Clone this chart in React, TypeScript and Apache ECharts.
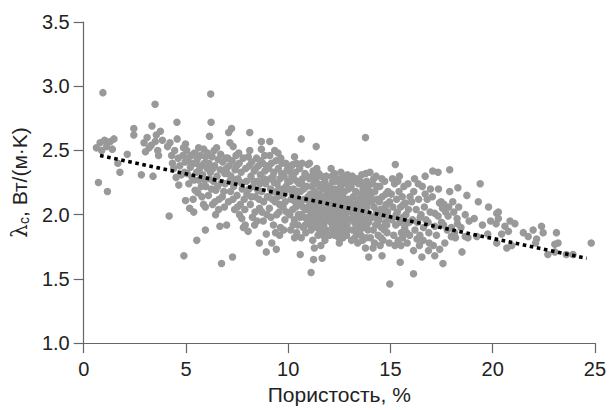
import React, { useEffect, useRef } from "react";
import * as echarts from "echarts";

// Axis ticks
const xTicks = [0, 5, 10, 15, 20, 25];
const yTicks = [1.0, 1.5, 2.0, 2.5, 3.0, 3.5];

// Scatter points [porosity %, conductivity W/(m·K)]
const band0to4: number[][] = [
  [0.94,2.95],[0.62,2.52],[0.80,2.56],[1.02,2.58],[1.30,2.57],[1.12,2.53],[0.88,2.50],[1.48,2.59],[1.40,2.51],
  [0.72,2.25],[1.16,2.18],[1.67,2.40],[1.77,2.33],[2.13,2.47],[2.45,2.67],[2.45,2.62],[3.49,2.86],[3.34,2.69],
  [3.75,2.65],[3.10,2.60],[2.95,2.56],[3.20,2.52],[3.62,2.50],[3.50,2.57],[3.02,2.49],[3.66,2.46],[3.55,2.62],
  [2.82,2.31],[3.39,2.30],[3.30,2.54],[3.85,2.58],[4.18,1.99]
];
const band4to6: number[][] = [
  [4.56,2.72],[4.57,2.59],[4.98,2.55],[4.10,2.53],[4.30,2.46],[4.34,2.40],[4.45,2.50],[4.62,2.44],[4.70,2.38],
  [4.85,2.46],[4.96,2.41],[4.40,2.36],[4.78,2.31],[4.65,2.23],[4.98,2.11],[4.90,1.68],[4.22,2.56],[4.88,2.52],
  [4.52,2.29],[4.93,2.33],
  [6.21,2.94],[6.23,2.72],[6.15,2.61],[5.87,2.51],[5.04,2.50],[5.42,2.48],[5.55,2.43],[5.70,2.46],[5.96,2.45],
  [5.38,2.02],[5.95,1.88],[5.53,1.80],[5.95,2.06],[5.10,2.44],[5.22,2.37],[5.30,2.29],[5.14,2.24],[5.48,2.40],
  [5.52,2.33],[5.45,2.19],[5.62,2.27],[5.74,2.38],[5.78,2.14],[5.82,2.31],[5.90,2.40],[5.97,2.22],[5.26,2.46],
  [5.62,2.52],[5.06,2.32],[5.35,2.12],[5.86,2.08],[5.58,2.17],[5.68,2.36],[5.92,2.27],[5.18,2.05],[5.40,2.27],
  [5.75,2.22],[5.28,2.40]
];
const band6to8: number[][] = [
  [6.50,2.52],[6.74,1.62],[6.66,1.91],[6.99,1.92],[6.05,2.48],[6.12,2.40],[6.20,2.33],[6.28,2.45],[6.35,2.26],
  [6.40,2.38],[6.46,2.19],[6.52,2.30],[6.58,2.43],[6.62,2.12],[6.68,2.35],[6.75,2.25],[6.80,2.41],[6.85,2.18],
  [6.90,2.32],[6.95,2.44],[6.10,2.15],[6.30,2.08],[6.60,2.04],[6.45,2.00],[6.88,2.06],[6.15,2.28],[6.38,2.50],
  [6.70,2.47],[6.25,2.20],[6.92,2.24],[6.05,2.36],[6.55,2.22],[6.78,2.14],[6.33,2.36],[6.98,2.36],[6.42,2.10],
  [7.23,2.67],[7.09,2.64],[7.15,2.56],[7.31,2.53],[7.28,1.67],[7.81,1.90],[7.73,1.97],[7.90,1.92],[7.05,2.44],
  [7.12,2.38],[7.20,2.30],[7.26,2.42],[7.34,2.22],[7.40,2.35],[7.45,2.46],[7.50,2.15],[7.55,2.28],[7.60,2.40],
  [7.66,2.08],[7.70,2.33],[7.75,2.20],[7.80,2.44],[7.85,2.12],[7.92,2.36],[7.96,2.26],[7.08,2.10],[7.18,2.18],
  [7.38,2.04],[7.48,2.38],[7.58,2.48],[7.62,2.00],[7.88,2.04],[7.42,2.27],[7.14,2.26],[7.68,2.25],[7.30,2.12],
  [7.52,2.06],[7.98,2.16],[7.02,2.32]
];
const band8to10: number[][] = [
  [8.12,2.64],[8.69,2.57],[8.69,2.51],[8.85,2.46],[8.59,1.78],[8.93,1.71],[8.93,1.85],[8.04,1.87],[8.05,2.45],
  [8.10,2.38],[8.18,2.30],[8.22,2.41],[8.28,2.22],[8.34,2.34],[8.40,2.14],[8.45,2.44],[8.50,2.26],[8.55,2.38],
  [8.60,2.05],[8.64,2.31],[8.70,2.18],[8.75,2.40],[8.80,2.10],[8.86,2.34],[8.90,2.24],[8.96,2.00],[8.15,2.08],
  [8.25,1.98],[8.38,2.02],[8.48,1.95],[8.58,2.12],[8.78,1.95],[8.32,2.26],[8.42,2.36],[8.52,2.19],[8.66,2.42],
  [8.82,2.28],[8.08,2.20],[8.20,2.14],[8.62,2.24],[8.94,2.38],[8.36,1.92],[8.72,2.02],[8.12,2.50],[8.98,2.14],
  [9.10,2.57],[9.34,2.50],[9.42,1.73],[9.58,1.84],[9.10,2.46],[9.50,2.48],[9.05,2.36],[9.12,2.28],[9.18,2.40],
  [9.24,2.18],[9.30,2.33],[9.36,2.10],[9.40,2.42],[9.46,2.24],[9.52,2.36],[9.56,2.02],[9.60,2.28],[9.66,2.15],
  [9.70,2.40],[9.75,2.06],[9.80,2.30],[9.84,1.96],[9.90,2.22],[9.95,2.35],[9.08,2.05],[9.16,1.98],[9.22,2.12],
  [9.28,1.92],[9.44,2.00],[9.48,2.14],[9.62,1.90],[9.72,2.20],[9.78,1.88],[9.86,2.10],[9.92,2.02],[9.98,2.26],
  [9.14,2.20],[9.32,2.25],[9.54,2.20],[9.68,2.32],[9.88,2.40],[9.38,1.86],[9.20,1.78],[9.64,2.44],[9.02,2.14],
  [9.82,2.16],[9.26,2.30],[9.58,2.08]
];
const band10to12: number[][] = [
  [10.64,2.59],[10.31,2.45],[10.23,2.39],[10.96,2.39],[10.59,1.69],[10.31,1.82],[10.64,1.82],[10.05,2.34],
  [10.10,2.26],[10.14,2.12],[10.18,2.30],[10.22,2.04],[10.26,2.20],[10.30,1.96],[10.35,2.33],[10.40,2.14],
  [10.44,2.26],[10.48,1.92],[10.52,2.08],[10.56,2.36],[10.60,2.18],[10.65,2.00],[10.70,2.28],[10.74,1.90],
  [10.78,2.12],[10.82,2.32],[10.86,2.04],[10.90,2.22],[10.94,1.96],[10.98,2.14],[10.08,2.00],[10.12,1.88],
  [10.20,2.16],[10.28,2.28],[10.38,2.06],[10.42,1.86],[10.46,2.18],[10.54,2.24],[10.58,1.98],[10.62,2.10],
  [10.68,2.40],[10.72,2.06],[10.76,2.20],[10.84,1.92],[10.88,2.12],[10.92,2.30],[10.02,2.20],[10.16,2.38],
  [10.34,2.10],[10.50,2.00],[10.66,2.24],[10.80,1.98],[10.96,2.06],[10.24,1.92],[10.40,2.40],[10.86,1.86],
  [11.04,2.40],[11.37,2.53],[11.24,1.65],[11.66,1.66],[11.12,1.55],[11.28,1.74],[11.60,1.76],[11.05,2.28],
  [11.08,2.16],[11.10,2.02],[11.14,1.94],[11.16,2.22],[11.20,2.10],[11.22,2.34],[11.26,1.98],[11.30,2.18],
  [11.34,2.04],[11.36,2.28],[11.40,1.90],[11.42,2.12],[11.46,2.24],[11.48,2.00],[11.52,2.16],[11.55,1.86],
  [11.58,2.08],[11.62,2.30],[11.64,1.96],[11.68,2.20],[11.70,2.04],[11.74,1.92],[11.76,2.14],[11.80,2.26],
  [11.82,2.00],[11.86,1.88],[11.88,2.10],[11.92,2.18],[11.94,1.96],[11.98,2.06],[11.06,2.08],[11.12,1.88],
  [11.18,2.30],[11.24,2.06],[11.32,1.94],[11.38,2.16],[11.44,2.06],[11.50,2.32],[11.56,1.98],[11.60,2.12],
  [11.66,1.90],[11.72,2.24],[11.78,2.06],[11.84,2.14],[11.90,1.84],[11.96,2.22],[11.02,1.98],[11.28,2.24],
  [11.46,1.84],[11.70,1.84],[11.86,2.30],[11.54,2.22],[11.16,2.14],[11.40,2.36],[11.20,1.80],[11.80,1.80],
  [11.64,2.02],[11.34,2.10],[11.10,1.92],[11.44,1.96],[11.74,2.00],[11.90,2.02],[11.30,2.00],[11.58,1.92]
];
const band12to14: number[][] = [
  [12.10,2.36],[12.58,2.33],[12.50,1.78],[12.90,2.31],[12.02,2.22],[12.05,2.08],[12.08,1.94],[12.12,2.14],
  [12.15,2.00],[12.18,2.26],[12.20,1.88],[12.24,2.10],[12.26,2.20],[12.30,1.96],[12.32,2.04],[12.36,2.16],
  [12.38,1.90],[12.42,2.28],[12.44,2.06],[12.48,1.98],[12.52,2.12],[12.54,1.86],[12.56,2.22],[12.60,2.02],
  [12.64,1.94],[12.66,2.14],[12.70,2.06],[12.72,1.88],[12.76,2.18],[12.78,1.98],[12.82,2.24],[12.84,2.08],
  [12.88,1.92],[12.92,2.12],[12.94,2.02],[12.98,1.96],[12.04,1.84],[12.14,2.30],[12.22,2.04],[12.28,1.84],
  [12.34,2.26],[12.40,2.00],[12.46,2.18],[12.50,2.08],[12.58,1.92],[12.62,2.26],[12.68,1.82],[12.74,2.10],
  [12.80,2.02],[12.86,1.84],[12.96,2.20],[12.10,1.98],[12.20,2.16],[12.32,1.92],[12.44,1.94],[12.56,2.04],
  [12.66,2.00],[12.78,2.12],[12.90,1.88],[12.16,1.90],[12.38,2.12],[12.60,2.16],[12.84,1.96],[12.26,2.32],
  [12.48,1.82],[12.72,2.30],[12.94,2.26],[12.06,2.02],[12.52,1.96],[12.76,1.94],[12.28,2.00],[12.64,2.08],
  [12.88,2.04],[12.40,1.86],[12.70,1.98],
  [13.78,2.60],[13.60,2.31],[13.80,2.32],[14.00,2.33],[13.94,1.67],[13.78,1.74],[13.02,2.10],[13.05,1.96],
  [13.08,2.22],[13.12,2.02],[13.15,1.88],[13.18,2.14],[13.22,2.26],[13.24,1.94],[13.28,2.06],[13.30,2.18],
  [13.34,1.86],[13.38,2.00],[13.40,2.12],[13.44,2.24],[13.48,1.92],[13.50,2.04],[13.54,2.16],[13.56,1.84],
  [13.60,1.98],[13.62,2.08],[13.66,2.20],[13.70,1.90],[13.72,2.02],[13.76,2.14],[13.80,1.96],[13.84,2.26],
  [13.86,2.06],[13.90,1.88],[13.92,2.10],[13.96,2.00],[13.98,2.18],[13.10,1.80],[13.20,2.08],[13.26,1.82],
  [13.36,2.28],[13.42,1.96],[13.52,2.26],[13.58,2.10],[13.64,1.80],[13.68,2.04],[13.74,2.24],[13.82,1.82],
  [13.88,2.16],[13.94,1.94],[13.14,2.30],[13.32,1.92],[13.46,2.08],[13.64,1.94],[13.78,2.06],[13.06,2.04],
  [13.40,1.78],[13.70,2.12],[13.90,2.22],[13.18,1.98],[13.56,2.00],[13.28,1.96],[13.50,1.88],[13.84,1.90]
];
const band14to17: number[][] = [
  [14.15,1.74],[14.59,1.68],[14.97,1.46],[14.30,2.30],[14.05,2.14],[14.08,1.98],[14.12,2.24],[14.16,1.88],
  [14.20,2.06],[14.24,2.18],[14.28,1.92],[14.32,2.02],[14.36,2.12],[14.40,1.84],[14.44,1.96],[14.48,2.22],
  [14.52,2.04],[14.56,1.90],[14.60,2.14],[14.64,1.80],[14.68,2.00],[14.72,2.26],[14.76,1.94],[14.80,2.08],
  [14.84,1.86],[14.88,2.18],[14.92,1.98],[14.96,2.10],[14.02,1.82],[14.10,2.10],[14.22,1.78],[14.34,2.22],
  [14.46,2.10],[14.54,1.82],[14.62,2.00],[14.70,1.88],[14.78,2.16],[14.86,2.02],[14.94,1.78],[14.18,2.28],
  [14.38,1.94],[14.58,2.28],[14.82,1.92],[14.26,1.98],[14.50,1.76],[14.74,2.06],
  [15.24,2.39],[15.86,2.24],[15.73,2.09],[15.48,1.63],[15.80,1.86],[15.04,2.16],[15.08,1.96],[15.12,2.06],
  [15.16,1.84],[15.20,2.24],[15.26,1.92],[15.30,2.12],[15.34,2.02],[15.38,1.80],[15.42,2.18],[15.46,1.94],
  [15.50,2.06],[15.54,1.86],[15.58,2.14],[15.62,1.98],[15.66,2.22],[15.70,1.90],[15.76,2.00],[15.82,1.78],
  [15.88,2.04],[15.92,1.94],[15.96,2.14],[15.10,2.28],[15.22,1.76],[15.36,2.26],[15.52,1.76],[15.64,2.08],
  [15.78,1.94],[15.94,1.84],[15.44,2.30],[15.28,2.00],[15.60,1.82],
  [16.13,1.54],[16.54,1.67],[16.86,1.72],[16.13,1.72],[16.30,1.81],[16.70,2.30],[16.70,2.16],[16.04,2.10],
  [16.08,1.96],[16.14,2.18],[16.20,1.88],[16.26,2.04],[16.32,1.94],[16.38,2.12],[16.44,1.84],[16.50,2.00],
  [16.56,2.22],[16.62,1.90],[16.66,2.06],[16.74,1.96],[16.80,2.12],[16.88,1.86],[16.94,2.02],[16.18,2.28],
  [16.42,1.76],[16.60,1.80],[16.84,1.94],[16.96,2.20],[16.36,2.24],[16.46,1.98],[16.90,1.78]
];
const band17to25: number[][] = [
  [17.07,2.34],[17.33,2.33],[17.90,2.35],[17.90,2.18],[17.10,1.76],[17.17,2.01],[17.33,1.99],[17.50,1.94],
  [17.17,1.91],[17.98,1.90],[17.98,1.83],[17.66,1.78],[17.41,1.73],[17.17,1.68],[17.57,1.62],[17.55,2.05],
  [17.70,2.02],[17.62,2.08],[17.40,2.09],[17.48,2.10],[17.82,1.99],[17.25,1.84],[17.78,1.88],[17.05,2.14],
  [17.60,1.92],[17.35,2.20],[17.85,2.06],
  [18.30,2.21],[18.74,2.15],[18.14,1.86],[18.50,1.71],[18.66,1.83],[18.79,1.82],[18.10,2.02],[18.34,2.06],
  [18.26,1.97],[18.66,2.00],[18.45,1.90],[18.28,1.93],[18.85,1.95],[18.05,2.10],[18.00,1.83],[18.18,1.82],
  [19.39,2.24],[19.30,2.10],[19.80,2.06],[20.28,2.02],[20.28,1.97],[20.20,2.01],[20.17,1.93],[20.60,1.91],
  [20.85,1.95],[21.09,1.93],[20.77,1.87],[20.44,1.85],[20.20,1.78],[20.69,1.74],[20.93,1.76],[19.76,1.85],
  [19.23,1.83],[19.50,1.92],[19.10,1.97],[19.90,1.95],
  [21.50,1.86],[21.74,1.83],[21.98,1.88],[22.39,1.91],[22.47,1.86],[22.15,1.81],[22.10,1.78],[23.12,1.86],
  [23.20,1.78],[23.04,1.77],[22.70,1.69],[23.04,1.71],[23.60,1.69],[23.93,1.69],[24.82,1.78]
];

// Linear trend line end points
const trendX = [0.8, 24.6];
const trendY = [2.46, 1.66];

const points = [
  ...band0to4, ...band4to6, ...band6to8, ...band8to10,
  ...band10to12, ...band12to14, ...band14to17, ...band17to25,
];

const FONT = "'Liberation Sans', Arial, Helvetica, sans-serif";

export default function App() {
  const ref = useRef<HTMLDivElement>(null);
  useEffect(() => {
    if (!ref.current) return;
    const chart = echarts.init(ref.current, undefined, { renderer: "svg" });
    chart.setOption({
      animation: false,
      backgroundColor: "#ffffff",
      grid: { left: 83, right: 12, top: 22, bottom: 61 },
      xAxis: {
        type: "value",
        min: xTicks[0],
        max: xTicks[xTicks.length - 1],
        interval: 5,
        name: "Пористость, %",
        nameLocation: "middle",
        nameGap: 40,
        nameTextStyle: { fontFamily: FONT, fontSize: 21, color: "#222" },
        axisLine: { show: true, onZero: false, lineStyle: { color: "#666", width: 1.2 } },
        axisTick: { show: true, inside: false, length: 10, lineStyle: { color: "#666", width: 1.2 } },
        axisLabel: { fontFamily: FONT, fontSize: 20, color: "#222", margin: 16 },
        splitLine: { show: false },
      },
      yAxis: {
        type: "value",
        min: yTicks[0],
        max: yTicks[yTicks.length - 1],
        interval: 0.5,
        name: "{l|λ}{s|c}{n|, Вт/(м·K)}",
        nameLocation: "middle",
        nameRotate: 90,
        nameGap: 49,
        nameTextStyle: {
          fontFamily: FONT,
          fontSize: 21,
          color: "#222",
          rich: {
            l: { fontFamily: "'DejaVu Serif', serif", fontSize: 22, color: "#222", lineHeight: 24 },
            s: { fontFamily: FONT, fontSize: 14, color: "#222", lineHeight: 13, verticalAlign: "bottom" },
            n: { fontFamily: FONT, fontSize: 21, color: "#222", lineHeight: 24 },
          },
        },
        axisLine: { show: true, onZero: false, lineStyle: { color: "#666", width: 1.2 } },
        axisTick: { show: true, inside: false, length: 10, lineStyle: { color: "#666", width: 1.2 } },
        axisLabel: {
          fontFamily: FONT, fontSize: 20, color: "#222", margin: 14,
          formatter: (v: number) => v.toFixed(1),
        },
        splitLine: { show: false },
      },
      series: [
        {
          type: "scatter",
          data: points,
          symbol: "circle",
          symbolSize: 7.5,
          itemStyle: { color: "#999999", opacity: 1 },
          z: 2,
          silent: true,
        },
        {
          type: "line",
          data: trendX.map((x, i) => [x, trendY[i]]),
          symbol: "none",
          lineStyle: { color: "#000", width: 3.6, type: [3.6, 3.6], cap: "butt" },
          z: 5,
          silent: true,
        },
      ],
    });
    return () => chart.dispose();
  }, []);
  return (
    <div
      ref={ref}
      style={{ position: "fixed", left: 0, top: 0, width: 609, height: 410, background: "#fff" }}
    />
  );
}
